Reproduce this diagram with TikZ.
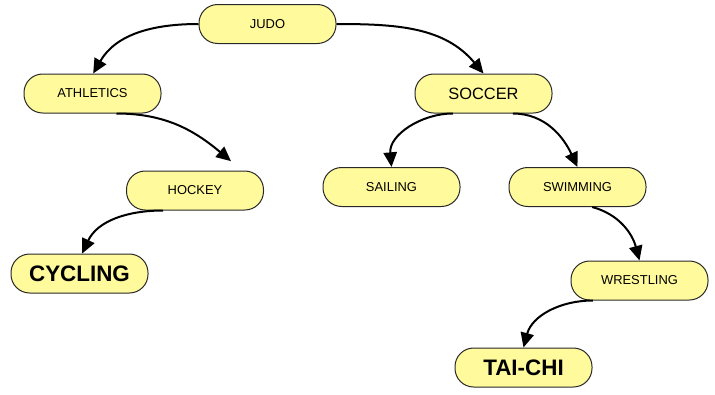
\documentclass[tikz,border=0pt]{standalone}
\usepackage{fontspec}
\setmainfont{Liberation Sans}
\usetikzlibrary{arrows.meta}
\definecolor{pillfill}{RGB}{255,250,155}
\definecolor{pillline}{RGB}{40,40,40}
\tikzset{
  pill/.style={draw=pillline, line width=0.75pt, fill=pillfill, rounded corners=14pt,
    minimum width=102.75pt, minimum height=29.25pt, inner sep=0pt, text=black},
  small/.style={pill, font=\fontsize{9.7pt}{11pt}\selectfont},
  medium/.style={pill, font=\fontsize{12.3pt}{14pt}\selectfont},
  big/.style={pill, font=\fontsize{16.8pt}{19pt}\selectfont\bfseries},
  link/.style={line width=1.5pt, -{Triangle[length=11pt,width=10pt]}}
}
\begin{document}
\begin{tikzpicture}[x=0.75pt,y=-0.75pt]
\useasboundingbox (0,0) rectangle (715,394);
\node[small]  (judo)      at (267.5,24)   {JUDO};
\node[small]  (athl)      at (92.5,93.5)  {ATHLETICS};
\node[small]  (hockey)    at (195,190.5)  {HOCKEY};
\node[big]    (cycling)   at (79.5,273.5) {CYCLING};
\node[medium] (soccer)    at (483.5,93.5) {SOCCER};
\node[small]  (sailing)   at (391.5,187)  {SAILING};
\node[small]  (swimming)  at (577.5,187)  {SWIMMING};
\node[small]  (wrestling) at (639.5,280.5){WRESTLING};
\node[big]    (taichi)    at (523.5,367.5){TAI-CHI};

\draw[link] (judo.west) to[out=180,in=60] ([xshift=0.5pt]athl.north);
\draw[link] (judo.east) to[out=0,in=130] (soccer.north);
\draw[link] ([xshift=18pt]athl.south) to[out=0,in=140] ([xshift=27pt,yshift=7pt]hockey.north);
\draw[link] ([xshift=-24pt]hockey.south) to[out=180,in=65] ([xshift=2pt]cycling.north);
\draw[link] ([xshift=-23pt]soccer.south) to[out=180,in=95] (sailing.north);
\draw[link] ([xshift=22pt]soccer.south) to[out=0,in=115] (swimming.north);
\draw[link] ([xshift=11pt]swimming.south) to[out=-15,in=105] (wrestling.north);
\draw[link] ([xshift=-35pt]wrestling.south) to[out=180,in=75] (taichi.north);
\end{tikzpicture}
\end{document}
